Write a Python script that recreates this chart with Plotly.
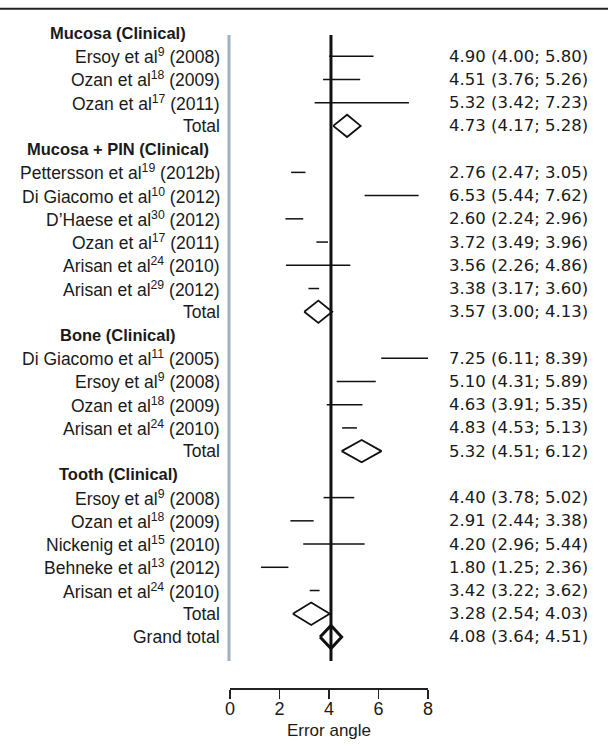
import plotly.graph_objects as go

# ---------------- data ----------------
group_names = ["Mucosa (Clinical)", "Mucosa + PIN (Clinical)", "Bone (Clinical)", "Tooth (Clinical)"]

study_group = [0, 0, 0, 1, 1, 1, 1, 1, 1, 2, 2, 2, 2, 3, 3, 3, 3, 3]
study_author = ["Ersoy", "Ozan", "Ozan",
                "Pettersson", "Di Giacomo", "D\u2019Haese", "Ozan", "Arisan", "Arisan",
                "Di Giacomo", "Ersoy", "Ozan", "Arisan",
                "Ersoy", "Ozan", "Nickenig", "Behneke", "Arisan"]
study_ref = [9, 18, 17, 19, 10, 30, 17, 24, 29, 11, 9, 18, 24, 9, 18, 15, 13, 24]
study_year = ["2008", "2009", "2011", "2012b", "2012", "2012", "2011", "2010", "2012",
              "2005", "2008", "2009", "2010", "2008", "2009", "2010", "2012", "2010"]
study_est = [4.90, 4.51, 5.32, 2.76, 6.53, 2.60, 3.72, 3.56, 3.38,
             7.25, 5.10, 4.63, 4.83, 4.40, 2.91, 4.20, 1.80, 3.42]
study_lo = [4.00, 3.76, 3.42, 2.47, 5.44, 2.24, 3.49, 2.26, 3.17,
            6.11, 4.31, 3.91, 4.53, 3.78, 2.44, 2.96, 1.25, 3.22]
study_hi = [5.80, 5.26, 7.23, 3.05, 7.62, 2.96, 3.96, 4.86, 3.60,
            8.39, 5.89, 5.35, 5.13, 5.02, 3.38, 5.44, 2.36, 3.62]

total_est = [4.73, 3.57, 5.32, 3.28]
total_lo = [4.17, 3.00, 4.51, 2.54]
total_hi = [5.28, 4.13, 6.12, 4.03]

grand_est = 4.08
grand_lo = 3.64
grand_hi = 4.51

x_ticks = [0, 2, 4, 6, 8]
x_title = "Error angle"

# ---------------- layout constants (page pixels) ----------------
W, H = 608, 754
ML = 230
PW = 198
MR = W - ML - PW
MT = 0
MB = H - 688
ROW0_PX = 33.0
ROW_STEP = 23.23
FONT = "Liberation Sans, Arial, sans-serif"
FONT_R = "DejaVu Sans, Verdana, sans-serif"
TXT = "#1a1a1a"
FS = 17.5

def px_to_paper_x(px):
    return (px - ML) / PW

y_top = (MT - ROW0_PX) / ROW_STEP
y_bot = (H - MB - ROW0_PX) / ROW_STEP

def row_to_paper_y(r):
    return 1 - (r - y_top) / (y_bot - y_top)

def pagey_to_row(py):
    return (py - ROW0_PX) / ROW_STEP

# ---------------- build rows ----------------
rows = []  # (kind, label, est, lo, hi)
for g, gname in enumerate(group_names):
    rows.append(("header", gname, None, None, None))
    for i in range(len(study_group)):
        if study_group[i] == g:
            lab = f"{study_author[i]} et al<sup>{study_ref[i]}</sup> ({study_year[i]})"
            rows.append(("study", lab, study_est[i], study_lo[i], study_hi[i]))
    rows.append(("total", "Total", total_est[g], total_lo[g], total_hi[g]))
rows.append(("grand", "Grand total", grand_est, grand_lo, grand_hi))

fig = go.Figure()

ci_x, ci_y = [], []
dia_x, dia_y = [], []
gx, gy = [], []
annotations = []
HALF = 0.48

for r, (kind, lab, est, lo, hi) in enumerate(rows):
    if kind == "header":
        annotations.append(dict(x=px_to_paper_x(118), xref="paper", y=r, yref="y",
                                text=f"<b>{lab}</b>", showarrow=False, xanchor="center",
                                yanchor="middle", font=dict(family=FONT, size=16.5, color=TXT)))
        continue
    annotations.append(dict(x=px_to_paper_x(222), xref="paper", y=r, yref="y",
                            text=lab, showarrow=False, xanchor="right", yanchor="middle",
                            font=dict(family=FONT, size=FS, color=TXT)))
    annotations.append(dict(x=px_to_paper_x(447), xref="paper", y=r, yref="y",
                            text=f"{est:.2f} ({lo:.2f}; {hi:.2f})", showarrow=False,
                            xanchor="left", yanchor="middle",
                            font=dict(family=FONT_R, size=16.5, color=TXT)))
    if kind == "study":
        ci_x += [lo, hi, None]
        ci_y += [r, r, None]
    elif kind == "total":
        dia_x += [lo, est, hi, est, lo, None]
        dia_y += [r, r - HALF, r, r + HALF, r, None]
    else:
        gx += [lo, est, hi, est, lo]
        gy += [r, r - 0.5, r, r + 0.5, r]

fig.add_trace(go.Scatter(x=ci_x, y=ci_y, mode="lines", line=dict(color="#111", width=1.5),
                         hoverinfo="skip", showlegend=False))
fig.add_trace(go.Scatter(x=dia_x, y=dia_y, mode="lines", line=dict(color="#111", width=1.8),
                         hoverinfo="skip", showlegend=False))
fig.add_trace(go.Scatter(x=gx, y=gy, mode="lines", line=dict(color="#111", width=3),
                         hoverinfo="skip", showlegend=False))

rule_y = row_to_paper_y(pagey_to_row(8.8))
shapes = [
    # reference line at grand estimate
    dict(type="line", xref="x", yref="y", x0=grand_est, x1=grand_est,
         y0=pagey_to_row(35), y1=pagey_to_row(661),
         line=dict(color="#111", width=3), layer="below"),
    # gray separator
    dict(type="line", xref="paper", yref="paper", x0=px_to_paper_x(229), x1=px_to_paper_x(229),
         y0=row_to_paper_y(pagey_to_row(35)), y1=row_to_paper_y(pagey_to_row(661)),
         line=dict(color="#a2b1bf", width=3)),
    # top rule
    dict(type="line", xref="paper", yref="paper", x0=px_to_paper_x(0), x1=px_to_paper_x(W),
         y0=rule_y, y1=rule_y, line=dict(color="#222", width=2)),
]

fig.update_layout(
    width=W, height=H,
    margin=dict(l=ML, r=MR, t=MT, b=MB),
    paper_bgcolor="white", plot_bgcolor="white",
    showlegend=False,
    hovermode=False,
    shapes=shapes,
    annotations=annotations,
    xaxis=dict(range=[0, 8], tickvals=x_ticks, ticktext=[str(t) for t in x_ticks],
               showgrid=False, zeroline=False, showline=True, linecolor="#222", linewidth=1.5,
               ticks="outside", ticklen=9, tickwidth=1.5, tickcolor="#222",
               ticklabelstandoff=-5,
               tickfont=dict(family=FONT, size=18, color=TXT),
               title=dict(text=x_title, font=dict(family=FONT, size=17, color=TXT), standoff=6)),
    yaxis=dict(range=[y_bot, y_top], showgrid=False, zeroline=False, showline=False,
               showticklabels=False, ticks=""),
)

fig.write_html("out.html", config={"displayModeBar": False, "staticPlot": True},
               post_script="document.body.style.margin='0';document.body.style.overflow='hidden';")
